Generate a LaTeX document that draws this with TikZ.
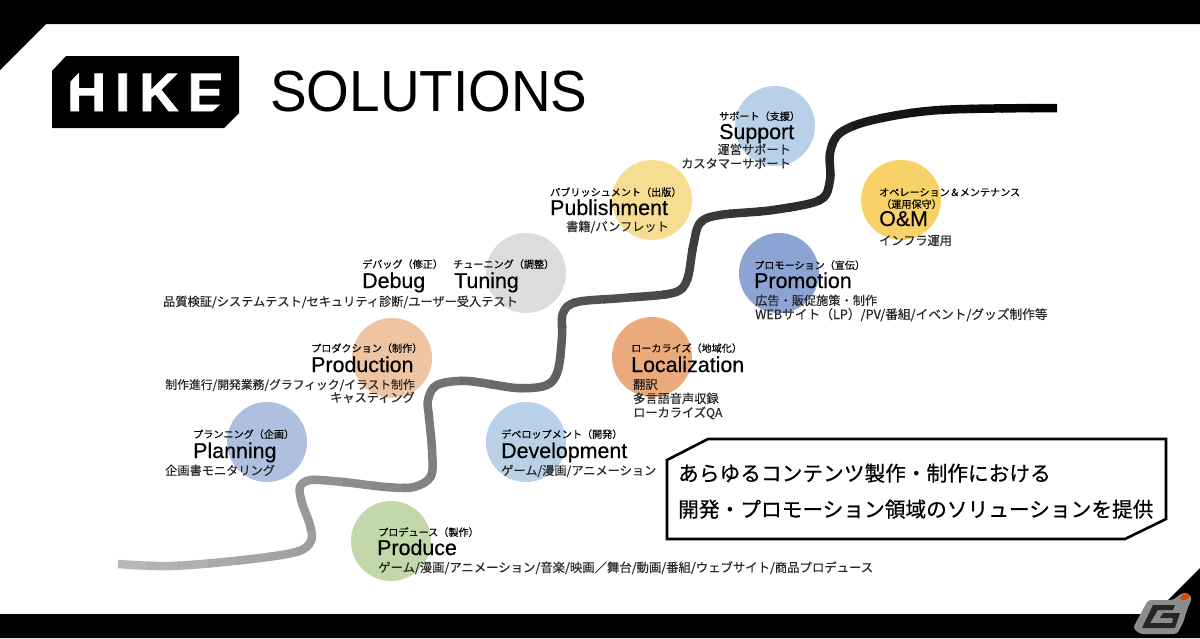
\documentclass[tikz,border=0pt]{standalone}
\usepackage{fontspec}
\setmainfont{Liberation Sans}
\newfontfamily\jpfont[FakeBold=0.25]{Noto Sans CJK JP}
\newfontfamily\logofont[LetterSpace=17,BoldFeatures={FakeBold=1.6}]{Liberation Sans}
\newfontfamily\headfont[FakeStretch=0.947]{Liberation Sans}
\newfontfamily\titlefont[FakeBold=0.4]{Liberation Sans}
\newfontfamily\boxfont[FakeBold=0.6]{Noto Sans CJK JP}

\definecolor{colSupport}{HTML}{B8D0E8}
\definecolor{colPublish}{HTML}{F7DD92}
\definecolor{colTuning}{HTML}{DCDCDC}
\definecolor{colProduction}{HTML}{EEC4A3}
\definecolor{colPlanning}{HTML}{AEBFE0}
\definecolor{colProduce}{HTML}{C2D8AB}
\definecolor{colDevelop}{HTML}{B9D0E9}
\definecolor{colLocal}{HTML}{EAAA7C}
\definecolor{colPromotion}{HTML}{8BA4D4}
\definecolor{colOandM}{HTML}{F8D268}

\begin{document}
\begin{tikzpicture}[
    x=1pt, y=-1pt,
    spot/.style={circle, draw=none, minimum size=80pt, inner sep=0pt},
    kana/.style={anchor=base west, inner sep=0pt, font=\jpfont\fontsize{10.1}{11}\selectfont},
    title/.style={anchor=base west, inner sep=0pt, font=\titlefont\fontsize{21.4}{22}\selectfont},
    desc/.style={anchor=base west, inner sep=0pt, text=black!85, font=\jpfont\fontsize{12.2}{13}\selectfont},
    descr/.style={desc, anchor=base east},
    msg/.style={anchor=base west, inner sep=0pt, font=\boxfont\fontsize{20.7}{21}\selectfont},
    band/.style={fill=black, draw=none}
]
\useasboundingbox (0,0) rectangle (1200,638);
\fill[white] (0,0) rectangle (1200,638);

% frame
\path[band] (0,0) -- (1200,0) -- (1200,24) -- (46,24) -- (0,70) -- cycle;
\path[band] (0,638) -- (0,614) -- (1154,614) -- (1200,568) -- (1200,638) -- cycle;

% logo
\path[band] (66,56) -- (239,56) -- (239,113) -- (224,128) -- (52,128) -- (52,71) -- cycle;
\node (Hike) [anchor=base west, inner sep=0pt, text=white,
    font=\logofont\bfseries\fontsize{54}{54}\selectfont] at (67,111) {HIKE};
\path[band] (69,70) -- (81,70) -- (69,83) -- cycle;
\path[band] (222,103) -- (222,113) -- (211,113) -- cycle;
\node (Solutions) [anchor=base west, inner sep=0pt,
    font=\headfont\fontsize{58}{58}\selectfont] at (270,111) {SOLUTIONS};

% circles
\node (spotSupport) [spot, fill=colSupport] at (775,126) {};
\node (spotPublish) [spot, fill=colPublish] at (652,200) {};
\node (spotTuning) [spot, fill=colTuning] at (526,273) {};
\node (spotProduction) [spot, fill=colProduction] at (392,358) {};
\node (spotPlanning) [spot, fill=colPlanning] at (267,442) {};
\node (spotProduce) [spot, fill=colProduce] at (391,541) {};
\node (spotDevelop) [spot, fill=colDevelop] at (526,442) {};
\node (spotLocal) [spot, fill=colLocal] at (652,357) {};
\node (spotPromotion) [spot, fill=colPromotion] at (779,273) {};
\node (spotOandM) [spot, fill=colOandM] at (901,200) {};

% road, light to dark
\foreach \i in {0,...,42}{
    \pgfmathsetmacro{\off}{\i*30}
    \pgfmathsetmacro{\mix}{28+72*\i/42}
    \draw[line width=8.5pt, color=black!\mix, dash pattern=on 0pt off \off pt on 32pt off 6000pt]
        plot[smooth, tension=0.55] coordinates {
            (118,564) (171,566) (243,560) (296,552) (311,541) (310,525) (302,503)
            (300,487) (311,480) (343,482) (386,487) (414,487) (431,476) (432,450)
            (429,417) (428,400) (437,385) (467,381) (517,388) (547,385) (558,370)
            (562,337) (563,313) (577,302) (623,298) (673,293) (687,280) (693,247)
            (700,223) (720,215) (773,210) (820,200) (830,180) (830,153) (840,133)
            (873,120) (940,110) (1057,108)};
}

% labels
\node (kanaSupport) [kana] at (719,120) {サポート（支援）};
\node (titleSupport) [title] at (719,139) {Support};
\node (descSupportA) [descr] at (791,154) {運営サポート};
\node (descSupportB) [descr] at (791,168) {カスタマーサポート};

\node (kanaPublish) [kana] at (550,196) {パブリッシュメント（出版）};
\node (titlePublish) [title] at (550,215) {Publishment};
\node (descPublish) [descr] at (669,231) {書籍/パンフレット};

\node (kanaDebug) [kana] at (362,268) {デバッグ（修正）};
\node (titleDebug) [title] at (362,288) {Debug};
\node (kanaTuning) [kana] at (453,268) {チューニング（調整）};
\node (titleTuning) [title] at (454,288) {Tuning};
\node (descTuning) [desc] at (163,306) {品質検証/システムテスト/セキュリティ診断/ユーザー受入テスト};

\node (kanaProduction) [kana] at (311,352) {プロダクション（制作）};
\node (titleProduction) [title] at (311,372) {Production};
\node (descProductionA) [descr, font=\jpfont\fontsize{11.8}{13}\selectfont] at (415,389) {制作進行/開発業務/グラフィック/イラスト制作};
\node (descProductionB) [descr] at (415,402) {キャスティング};

\node (kanaPlanning) [kana] at (193,438) {プランニング（企画）};
\node (titlePlanning) [title] at (193,458) {Planning};
\node (descPlanning) [desc] at (165,475) {企画書モニタリング};

\node (kanaProduce) [kana] at (378,536) {プロデュース（製作）};
\node (titleProduce) [title] at (377,555) {Produce};
\node (descProduce) [desc, font=\jpfont\fontsize{12.37}{13}\selectfont] at (378,572) {ゲーム/漫画/アニメーション/音楽/映画／舞台/動画/番組/ウェブサイト/商品プロデュース};

\node (kanaDevelop) [kana] at (501,438) {デベロップメント（開発）};
\node (titleDevelop) [title] at (501,458) {Development};
\node (descDevelop) [desc] at (501,475) {ゲーム/漫画/アニメーション};

\node (kanaLocal) [kana] at (631,352) {ローカライズ（地域化）};
\node (titleLocal) [title] at (631,372) {Localization};
\node (descLocalA) [desc] at (633,389) {翻訳};
\node (descLocalB) [desc] at (633,403) {多言語音声収録};
\node (descLocalC) [desc] at (633,417) {ローカライズQA};

\node (kanaPromotion) [kana] at (754,269) {プロモーション（宣伝）};
\node (titlePromotion) [title] at (754,288) {Promotion};
\node (descPromotionA) [desc] at (755,305) {広告・販促施策・制作};
\node (descPromotionB) [desc, font=\jpfont\fontsize{12.7}{13}\selectfont] at (755,319) {WEBサイト（LP）/PV/番組/イベント/グッズ制作等};

\node (kanaOandMA) [kana] at (879,196) {オペレーション＆メンテナンス};
\node (kanaOandMB) [kana] at (881,208) {（運用保守）};
\node (titleOandM) [title] at (879,226) {O\&M};
\node (descOandM) [desc] at (879,245) {インフラ運用};

% message box
\draw[line width=2.6pt, fill=white] (708,439) -- (1166,439) -- (1166,519) -- (1125,539)
    -- (667,539) -- (667,460) -- cycle;
\node (msgA) [msg] at (678,481) {あらゆるコンテンツ製作・制作における};
\node (msgB) [msg] at (678,517) {開発・プロモーション領域のソリューションを提供};

% corner mark
\fill[black!45, rounded corners=3pt] (1148,600) -- (1173,600) -- (1182,593) -- (1188,593)
    -- (1192,598) -- (1187,610) -- (1183,623) -- (1177,634) -- (1140,634) -- (1133,628) -- cycle;
\fill[black!85] (1153,605) -- (1175,605) -- (1173,610) -- (1158,610) -- (1150,623) -- (1172,623)
    -- (1173,618) -- (1160,618) -- (1163,613) -- (1180,613) -- (1175,628) -- (1142,628) -- cycle;
\fill[orange!70!red!85!black, rotate around={20:(1185,597)}] (1185,597) ellipse (5pt and 3pt);
\end{tikzpicture}
\end{document}
